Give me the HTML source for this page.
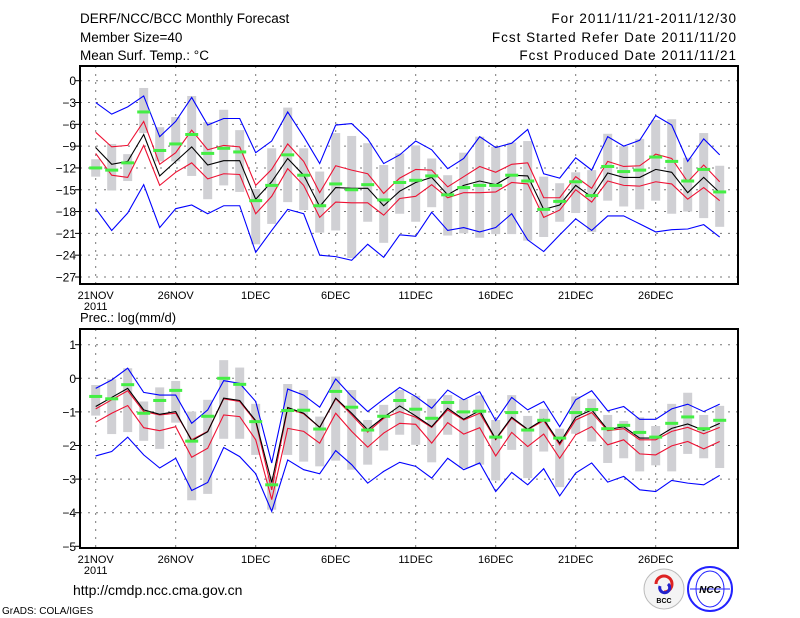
<!DOCTYPE html>
<html><head><meta charset="utf-8">
<style>
body{margin:0;background:#fff;width:800px;height:618px;overflow:hidden}
svg{display:block}
text{font-family:"Liberation Sans",sans-serif;fill:#000}
</style></head>
<body>
<svg id="c" width="800" height="618" xmlns="http://www.w3.org/2000/svg">
<g font-size="13.5">
<text x="80" y="23">DERF/NCC/BCC Monthly Forecast</text>
<text x="80" y="42">Member Size=40</text>
<text x="80" y="60">Mean Surf. Temp.: °C</text>
</g>
<g font-size="13.5" text-anchor="end" letter-spacing="1">
<text x="737" y="23">For 2011/11/21-2011/12/30</text>
<text x="737" y="42">Fcst Started Refer Date 2011/11/20</text>
<text x="737" y="60">Fcst Produced Date 2011/11/21</text>
</g>
<text x="80" y="322" font-size="13">Prec.: log(mm/d)</text>
<text x="73" y="595" font-size="14">http://cmdp.ncc.cma.gov.cn</text>
<text x="2" y="614" font-size="10">GrADS: COLA/IGES</text>
<g>
<circle cx="664" cy="589" r="20" fill="#f4f4f4" stroke="#bbb"/>
<path d="M656 584 a8 8 0 1 1 8 8" fill="none" stroke="#d22" stroke-width="3"/>
<path d="M660 586 a5 5 0 1 0 8 -2" fill="none" stroke="#22c" stroke-width="3"/>
<text x="664" y="603" font-size="7" text-anchor="middle" font-weight="bold">BCC</text>
</g>
<g>
<circle cx="710" cy="589" r="22" fill="#fff" stroke="#22f" stroke-width="2"/>
<ellipse cx="710" cy="589" rx="14" ry="18" fill="none" stroke="#22f"/>
<line x1="690" y1="589" x2="730" y2="589" stroke="#22f"/>
<text x="710" y="593" font-size="10" text-anchor="middle" font-weight="bold" font-style="italic" fill="#22f">NCC</text>
</g>
</svg>
<script>
// ---- Temperature panel data ----
const days=['21NOV','26NOV','1DEC','6DEC','11DEC','16DEC','21DEC','26DEC'];
const tTicks=[0,-3,-6,-9,-12,-15,-18,-21,-24,-27];
const pTicks=[1,0,-1,-2,-3,-4,-5];
const tMean=[-9.2,-11.5,-11.1,-7.4,-13.1,-11.1,-9.1,-11.6,-11.0,-11.0,-16.3,-13.9,-10.7,-13.0,-17.3,-14.7,-14.8,-14.8,-17.2,-15.2,-14.0,-13.3,-15.7,-14.4,-13.8,-14.3,-13.0,-13.1,-17.7,-17.1,-14.4,-16.0,-12.7,-13.3,-13.3,-12.2,-12.6,-15.4,-13.3,-15.4];
const tRedHi=[-7.1,-9.1,-8.9,-5.6,-11.5,-9.9,-6.8,-9.5,-8.9,-9.1,-14.4,-12.2,-8.7,-11.1,-15.4,-11.7,-12.3,-12.8,-15.5,-13.4,-12.2,-12.3,-14.6,-13.2,-11.8,-12.6,-11.5,-11.3,-16.1,-16.1,-13.2,-14.8,-11.1,-11.8,-11.7,-10.1,-10.7,-13.9,-11.6,-13.9];
const tRedLo=[-10.0,-13.0,-13.3,-8.9,-14.4,-12.6,-11.3,-13.5,-12.8,-12.9,-18.3,-15.9,-12.1,-14.4,-18.8,-16.7,-16.8,-16.8,-18.5,-16.2,-15.9,-14.3,-16.1,-15.4,-15.4,-15.3,-14.0,-14.2,-18.8,-17.8,-15.0,-16.7,-13.8,-14.4,-14.5,-13.9,-14.2,-16.3,-14.7,-16.5];
const tBlueHi=[-3.0,-4.6,-3.6,-2.1,-7.7,-5.6,-2.3,-6.1,-5.2,-5.2,-9.9,-8.3,-4.3,-7.7,-11.4,-6.1,-5.9,-8.0,-11.4,-10.2,-8.3,-9.5,-12.1,-10.7,-7.7,-9.2,-8.6,-6.7,-12.8,-13.4,-10.6,-12.3,-7.7,-9.0,-8.2,-4.8,-6.1,-11.1,-8.0,-10.2];
const tBlueLo=[-17.6,-20.6,-18.2,-14.3,-20.2,-17.6,-17.1,-18.3,-17.2,-17.2,-23.6,-20.6,-17.7,-18.3,-24.0,-24.2,-24.7,-22.5,-24.3,-21.2,-21.4,-18.1,-20.6,-20.2,-20.8,-20.2,-18.3,-21.9,-23.5,-21.2,-19.0,-20.6,-18.6,-18.6,-19.7,-20.8,-20.5,-20.4,-19.8,-21.5];
const tObs=[-12.0,-12.3,-11.3,-4.3,-9.6,-8.7,-7.4,-10.0,-9.3,-9.8,-16.5,-14.4,-10.2,-13.0,-17.2,-14.2,-15.0,-14.3,-16.4,-14.0,-13.7,-13.1,-15.7,-14.7,-14.4,-14.4,-13.0,-13.8,-17.7,-16.6,-13.9,-15.8,-11.8,-12.5,-12.3,-10.5,-11.1,-13.8,-12.2,-15.3];
const tBarHi=[-10.8,-8.7,-10.1,-1.0,-6.4,-5.0,-2.1,-5.7,-4.0,-6.8,-14.9,-9.3,-3.7,-9.3,-12.5,-7.2,-7.6,-8.6,-11.6,-10.0,-8.9,-10.7,-13.0,-9.9,-7.7,-9.1,-8.5,-8.3,-13.2,-14.1,-12.6,-12.3,-7.3,-9.0,-8.0,-5.4,-5.3,-10.6,-7.2,-11.7];
const tBarLo=[-13.2,-15.1,-13.8,-7.2,-11.1,-11.1,-13.1,-16.3,-14.4,-15.3,-22.5,-19.7,-16.7,-17.8,-20.9,-20.6,-24.4,-19.4,-22.3,-18.3,-19.4,-17.4,-21.3,-21.0,-21.6,-21.1,-21.1,-22.0,-21.5,-19.4,-18.2,-20.8,-16.5,-17.3,-17.7,-16.5,-18.3,-18.0,-18.9,-20.1];
// ---- Precipitation panel data ----
const pMean=[-0.84,-0.57,-0.30,-0.94,-1.07,-0.99,-1.86,-1.59,-0.59,-0.66,-1.26,-3.10,-0.87,-1.04,-1.46,-0.59,-1.04,-1.53,-1.16,-0.82,-1.12,-1.44,-0.89,-1.22,-0.96,-1.81,-1.16,-1.52,-1.22,-1.93,-1.16,-0.94,-1.53,-1.44,-1.78,-1.78,-1.49,-1.36,-1.55,-1.34];
const pRedHi=[-0.91,-0.64,-0.37,-0.99,-1.09,-1.04,-1.83,-1.58,-0.61,-0.69,-1.29,-3.32,-0.89,-1.06,-1.46,-0.61,-1.09,-1.60,-1.19,-0.99,-1.16,-1.46,-0.94,-1.24,-1.04,-1.83,-1.19,-1.53,-1.26,-1.98,-1.24,-1.02,-1.56,-1.50,-1.83,-1.83,-1.58,-1.46,-1.65,-1.46];
const pRedLo=[-1.31,-1.04,-0.81,-1.47,-1.56,-1.44,-2.35,-2.08,-1.09,-1.14,-1.83,-3.61,-1.49,-1.58,-1.93,-1.04,-1.58,-2.05,-1.63,-1.34,-1.37,-1.93,-1.32,-1.66,-1.47,-2.31,-1.61,-2.03,-1.66,-2.38,-1.68,-1.44,-1.98,-1.83,-2.25,-2.28,-2.01,-1.88,-2.10,-1.88];
const pBlueHi=[-0.30,-0.05,0.30,-0.42,-0.50,-0.50,-1.34,-0.94,-0.07,-0.15,-0.69,-2.52,-0.32,-0.50,-0.86,-0.02,-0.54,-0.99,-0.62,-0.27,-0.54,-0.89,-0.35,-0.64,-0.40,-1.26,-0.57,-0.94,-0.69,-1.44,-0.64,-0.37,-0.97,-0.84,-1.22,-1.22,-0.91,-0.77,-0.99,-0.77];
const pBlueLo=[-2.31,-2.18,-1.75,-2.28,-2.67,-2.38,-3.34,-3.10,-2.06,-2.33,-2.84,-3.96,-2.43,-2.72,-2.84,-2.15,-2.57,-3.12,-2.77,-2.50,-2.62,-2.97,-2.38,-2.72,-2.52,-3.37,-2.80,-3.17,-2.69,-3.50,-2.82,-2.52,-3.09,-2.92,-3.32,-3.37,-3.04,-3.12,-3.17,-2.89];
const pObs=[-0.54,-0.61,-0.19,-1.04,-0.66,-0.36,-1.87,-1.13,0.00,-0.18,-1.29,-3.17,-0.96,-0.95,-1.51,-0.39,-0.86,-1.54,-1.13,-0.66,-0.92,-1.19,-0.72,-1.00,-0.98,-1.75,-1.02,-1.54,-1.25,-1.78,-1.02,-0.93,-1.50,-1.40,-1.61,-1.75,-1.34,-1.15,-1.50,-1.25];
const pBarHi=[-0.20,-0.03,0.30,-0.69,-0.27,-0.08,-0.99,-0.64,0.54,0.32,-0.76,-2.92,-0.17,-0.35,-1.14,0.05,-0.35,-1.24,-0.79,-0.35,-0.52,-0.61,-0.50,-0.62,-0.51,-1.24,-0.50,-1.12,-0.91,-1.50,-0.54,-0.61,-1.09,-1.27,-1.16,-1.42,-0.76,-0.43,-1.09,-0.82];
const pBarLo=[-1.11,-1.66,-1.60,-1.86,-2.10,-1.32,-3.63,-3.44,-1.80,-1.80,-2.28,-3.91,-2.28,-2.48,-2.62,-2.45,-2.72,-2.57,-2.15,-1.68,-1.98,-2.50,-1.68,-2.67,-2.57,-3.04,-2.13,-2.97,-2.18,-3.24,-1.65,-1.88,-2.52,-2.38,-2.77,-2.59,-2.77,-2.25,-2.38,-2.67];

const NS='http://www.w3.org/2000/svg';
const svg=document.getElementById('c');
const X0=80,X1=738,D0=95.7,DX=16;
function xDay(i){return D0+i*DX;}
function mk(tag,attrs,parent){const e=document.createElementNS(NS,tag);for(const k in attrs)e.setAttribute(k,attrs[k]);(parent||svg).appendChild(e);return e;}

function panel(cfg){
  const g=mk('g',{});
  
  
  const y=v=>cfg.y0+(cfg.v0-v)*cfg.k;
  cfg.ticks.forEach(t=>{
    const yy=y(t);
    if(yy>cfg.top+2&&yy<cfg.bot-2){const l=mk('line',{x1:X0,x2:X1,y1:yy,y2:yy,stroke:'#777','stroke-dasharray':'2,6'},g);
    
    }
    const tk=mk('line',{x1:X0-5,x2:X0,y1:yy,y2:yy,stroke:'#000'},g);
    
    
    const tx=mk('text',{x:X0-4,y:yy+4.5,'font-size':'12','text-anchor':'end'},g);
    tx.textContent=String(t).replace('-','\u2212');
    
    
  });
  days.forEach((d,j)=>{
    const xx=xDay(j*5);
    const l=mk('line',{x1:xx,x2:xx,y1:cfg.top,y2:cfg.bot,stroke:'#777','stroke-dasharray':'2,6'},g);
    
    
    const tx=mk('text',{x:xx,y:cfg.bot+15,'font-size':'11','text-anchor':'middle'},g);
    tx.textContent=d;
    
    
  });
  const yr=mk('text',{x:xDay(0),y:cfg.bot+26,'font-size':'11','text-anchor':'middle'},g);
  yr.textContent='2011';
  
  
  cfg.barHi.forEach((h,i)=>{
    const lo=cfg.barLo[i];
    const r=mk('rect',{x:xDay(i)-4.5,y:y(h),width:9,height:Math.max(1,y(lo)-y(h)),fill:'#d0d0d4'},g);
    
    
  });
  const series=[[cfg.blueLo,'#0000ff','min-line'],[cfg.blueHi,'#0000ff','max-line'],[cfg.redLo,'#ee1133','lower-sd-line'],[cfg.redHi,'#ee1133','upper-sd-line'],[cfg.mean,'#000','ensemble-mean-line']];
  series.forEach(s=>{
    const p=mk('polyline',{points:s[0].map((v,i)=>xDay(i)+','+y(v)).join(' '),fill:'none',stroke:s[1],'stroke-width':'1.1'},g);
    
    
  });
  cfg.obs.forEach((v,i)=>{
    const r=mk('rect',{x:xDay(i)-6.5,y:y(v)-1.5,width:13,height:3,fill:'#44ee44'},g);
    
    
  });
  const f=mk('rect',{x:X0,y:cfg.top,width:X1-X0,height:cfg.bot-cfg.top,fill:'none',stroke:'#000','stroke-width':'2'},g);
  
  
}
panel({name:'temperature-panel',top:66,bot:284,y0:80.7,v0:0,k:7.27,ticks:tTicks,mean:tMean,redHi:tRedHi,redLo:tRedLo,blueHi:tBlueHi,blueLo:tBlueLo,obs:tObs,barHi:tBarHi,barLo:tBarLo});
panel({name:'precipitation-panel',top:329,bot:548,y0:378.3,v0:0,k:33.6,ticks:pTicks,mean:pMean,redHi:pRedHi,redLo:pRedLo,blueHi:pBlueHi,blueLo:pBlueLo,obs:pObs,barHi:pBarHi,barLo:pBarLo});
</script>
</body></html>
